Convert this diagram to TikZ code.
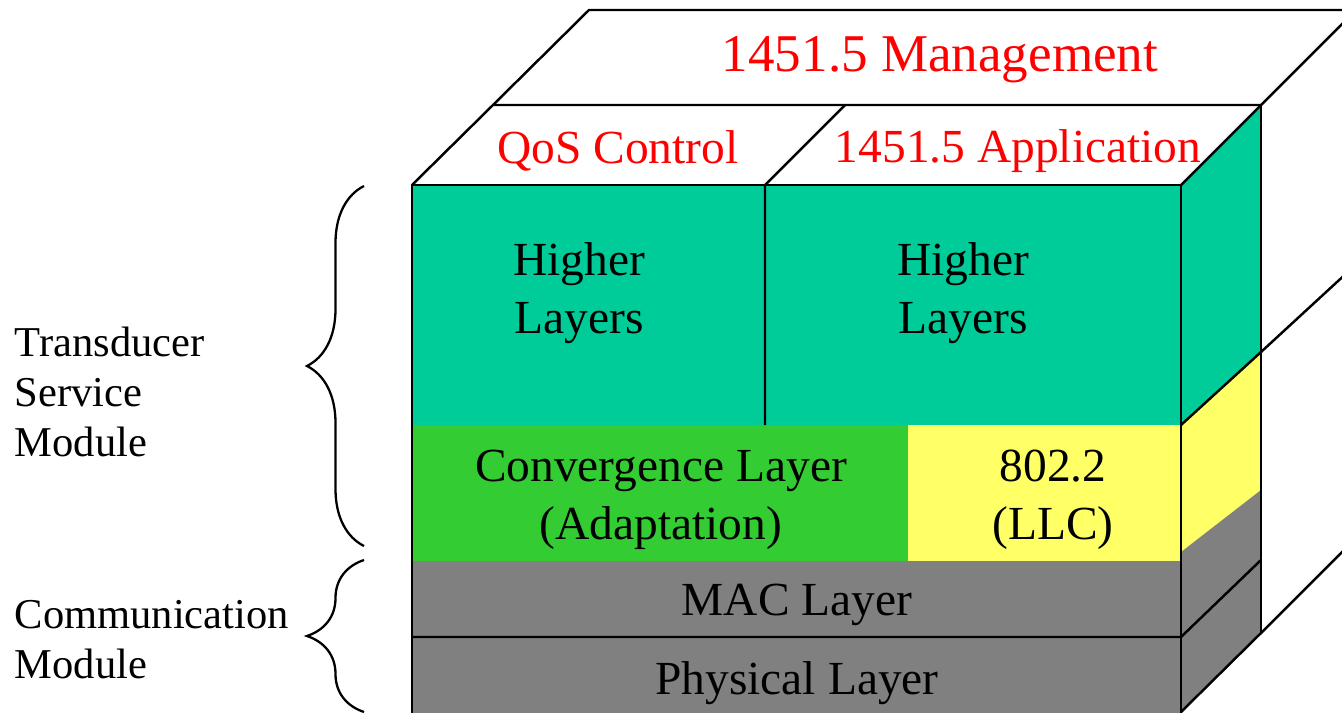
\documentclass[tikz,border=0pt]{standalone}
\usepackage{fontspec}
\setmainfont{Liberation Serif}
\usetikzlibrary{calc,decorations.pathreplacing}

\definecolor{hlteal}{RGB}{0,204,153}
\definecolor{convgreen}{RGB}{51,204,51}
\definecolor{llcyellow}{RGB}{255,255,102}
\definecolor{macgray}{RGB}{128,128,128}

\begin{document}
\begin{tikzpicture}[
  edge/.style={draw=black, line width=0.7pt},
  lbl/.style={font=\fontsize{13.5}{16.5}\selectfont, align=center},
  redlbl/.style={lbl, text=red},
  sidelbl/.style={font=\fontsize{12.1}{14.2}\selectfont, align=left, anchor=west, inner sep=0pt},
  bracket/.style={decorate, decoration={brace, amplitude=5.7mm}, line width=0.65pt},
]
  \useasboundingbox (0,0) rectangle (13.42,7.12);
  \clip (0,0) rectangle (13.42,7.12);

  % Front face corners
  \coordinate (ftl) at (4.12,5.27);
  \coordinate (ftr) at (11.81,5.27);
  \coordinate (fbl) at (4.12,-0.2);
  \coordinate (fbr) at (11.81,-0.2);
  % Back edge of the stack
  \coordinate (btl) at (4.93,6.07);
  \coordinate (btr) at (12.61,6.07);
  \coordinate (bbr) at (12.61,0.79);

  % Front face fills
  \fill[hlteal] (4.12,2.87) rectangle (11.81,5.27);
  \fill[convgreen] (4.12,1.51) rectangle (9.08,2.87);
  \fill[llcyellow] (9.08,1.51) rectangle (11.81,2.87);
  \fill[macgray] (fbl) rectangle (11.81,1.51);

  % Side face fills
  \fill[hlteal] (ftr) -- (btr) -- (12.61,3.60) -- (11.81,2.87) -- cycle;
  \fill[llcyellow] (11.81,2.87) -- (12.61,3.60) -- (12.61,2.22) -- (11.81,1.60) -- cycle;
  \fill[macgray] (11.81,1.60) -- (12.61,2.22) -- (bbr) -- (11.81,0) -- (fbr) -- cycle;

  % Outlines
  \draw[edge] (fbl) -- (ftl) -- (ftr) -- (fbr);
  \draw[edge] (4.12,0.75) -- (11.81,0.75) -- (12.61,1.52);
  \draw[edge] (7.65,2.87) -- (7.65,5.27) -- (8.45,6.07);
  \draw[edge] (ftl) -- (btl) -- (btr);
  \draw[edge] (btl) -- (5.89,7.02) -- (13.6,7.02);
  \draw[edge] (ftr) -- (btr) -- (13.6,7.06);
  \draw[edge] (btr) -- (bbr);
  \draw[edge] (11.81,2.87) -- (12.61,3.60) -- (13.5,4.42);
  \draw[edge] (11.81,0) -- (bbr) -- (13.5,1.68);

  % Layer labels
  \node[redlbl, font=\fontsize{15.1}{18}\selectfont] (mgmt) at (9.40,6.52) {1451.5 Management};
  \node[redlbl] (qos) at (6.18,5.61) {QoS Control};
  \node[redlbl] (app) at (10.18,5.61) {1451.5 Application};
  \node[lbl] (hl1) at (5.79,4.19) {Higher\\Layers};
  \node[lbl] (hl2) at (9.63,4.19) {Higher\\Layers};
  \node[lbl] (conv) at (6.61,2.12) {Convergence Layer\\(Adaptation)};
  \node[lbl] (llc) at (10.53,2.12) {802.2\\(LLC)};
  \node[lbl] (mac) at (7.97,1.07) {MAC Layer};
  \node[lbl] (phy) at (7.97,0.29) {Physical Layer};

  % Module braces
  \draw[bracket] (3.64,1.66) -- (3.64,5.26);
  \draw[bracket] (3.64,0) -- (3.64,1.52);
  \node[sidelbl] (tsm) at (0.14,3.20) {Transducer\\Service\\Module};
  \node[sidelbl] (comm) at (0.14,0.72) {Communication\\Module};
\end{tikzpicture}
\end{document}
